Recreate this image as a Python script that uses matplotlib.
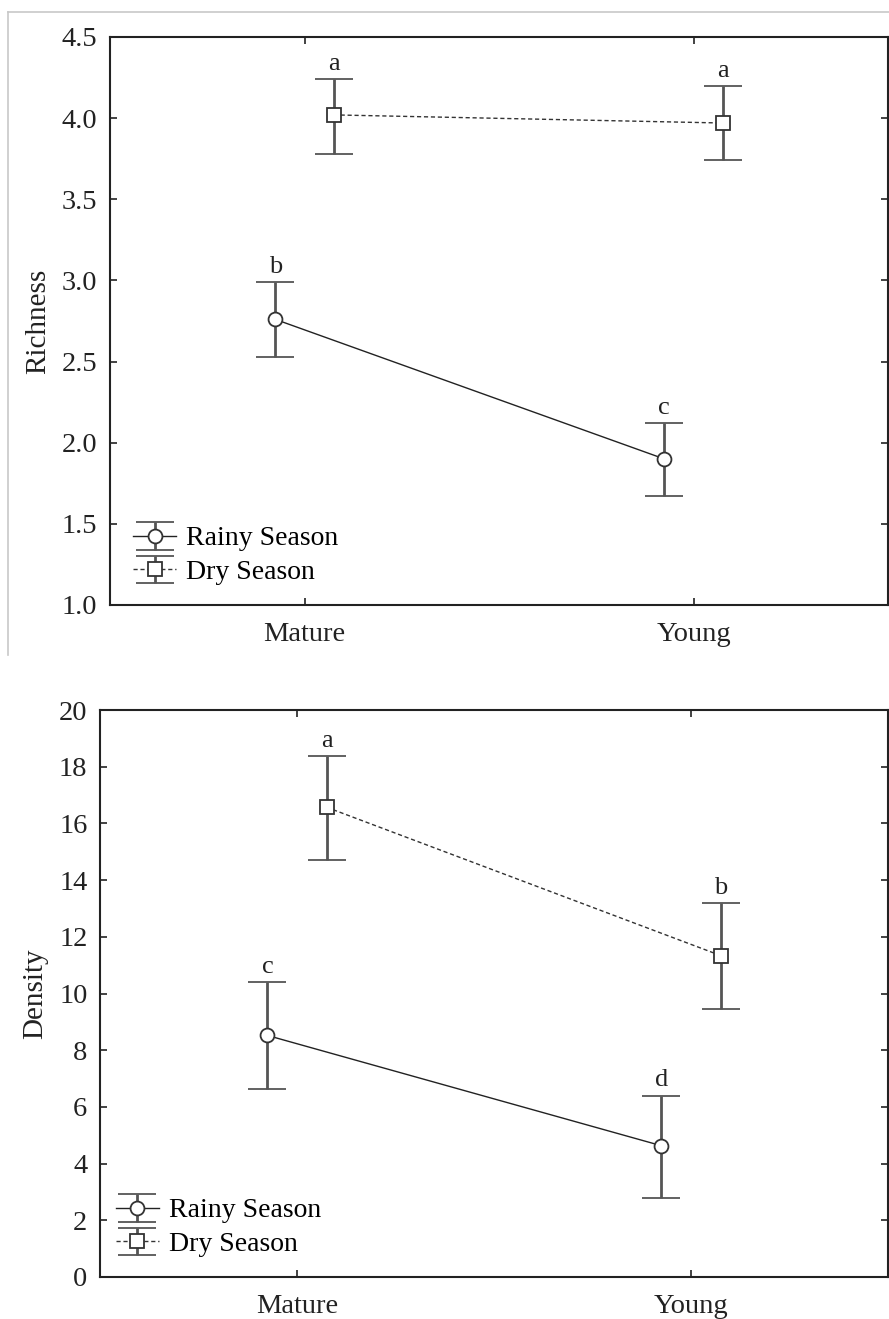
import numpy as np
import matplotlib
matplotlib.use("Agg")
import matplotlib.pyplot as plt
from matplotlib.legend_handler import HandlerErrorbar
from matplotlib.lines import Line2D

plt.rcParams['font.family'] = ['Liberation Serif', 'DejaVu Serif']

stands = ["Mature", "Young"]
seasons = ["Rainy Season", "Dry Season"]

# richness: mean, lower and upper bound of the bars
rich_rainy = [2.76, 1.90]
rich_rainy_lo = [2.53, 1.67]
rich_rainy_hi = [2.99, 2.12]
rich_dry = [4.02, 3.97]
rich_dry_lo = [3.78, 3.74]
rich_dry_hi = [4.24, 4.20]
rich_letters_rainy = ["b", "c"]
rich_letters_dry = ["a", "a"]

# density
dens_rainy = [8.52, 4.63]
dens_rainy_lo = [6.64, 2.80]
dens_rainy_hi = [10.39, 6.40]
dens_dry = [16.57, 11.34]
dens_dry_lo = [14.70, 9.47]
dens_dry_hi = [18.37, 13.18]
dens_letters_rainy = ["c", "d"]
dens_letters_dry = ["a", "b"]

fig = plt.figure(figsize=(8.89, 13.19), dpi=100)
ax0 = fig.add_axes([110/889, 1-605/1319, 778/889, 568/1319])
ax1 = fig.add_axes([100/889, 1-1277/1319, 788/889, 567/1319])

# light frame around the upper picture
fig.add_artist(Line2D([8/889, 1], [1-12/1319, 1-12/1319], transform=fig.transFigure,
                      color="#c8c8c8", lw=1.2))
fig.add_artist(Line2D([8/889, 8/889], [1-12/1319, 1-655/1319], transform=fig.transFigure,
                      color="#c8c8c8", lw=1.2))

x = np.arange(len(stands))
OFF = 0.075


def panel(ax, rainy, rlo, rhi, dry, dlo, dhi, lrain, ldry, ylim, yticks, ylabel, fmt, leg_anchor):
    rainy = np.array(rainy); dry = np.array(dry)
    rerr = [rainy - np.array(rlo), np.array(rhi) - rainy]
    derr = [dry - np.array(dlo), np.array(dhi) - dry]
    ax.errorbar(x - OFF, rainy, yerr=rerr, color="#222222", lw=1.0, ls="-",
                marker="o", ms=10, mfc="white", mec="#333333", mew=1.3,
                ecolor="#555555", elinewidth=2.0, capsize=14, capthick=2.0,
                label=seasons[0], zorder=3)
    ax.errorbar(x + OFF, dry, yerr=derr, color="#333333", lw=1.0, ls=(0, (3, 2)),
                marker="s", ms=10, mfc="white", mec="#333333", mew=1.3,
                ecolor="#555555", elinewidth=2.0, capsize=14, capthick=2.0,
                label=seasons[1], zorder=3)
    for i in range(len(x)):
        ax.annotate(lrain[i], (x[i] - OFF, rhi[i]), xytext=(0, 3), textcoords="offset points",
                    ha="center", va="bottom", fontsize=19, color="#222222")
        ax.annotate(ldry[i], (x[i] + OFF, dhi[i]), xytext=(0, 3), textcoords="offset points",
                    ha="center", va="bottom", fontsize=19, color="#222222")
    ax.set_xlim(-0.5, 1.5)
    ax.set_ylim(*ylim)
    ax.set_yticks(yticks)
    ax.set_yticklabels([fmt.format(v) for v in yticks])
    ax.set_xticks(x)
    ax.set_xticklabels(stands)
    ax.tick_params(axis="both", direction="in", length=5, width=1.2, labelsize=20.5,
                   top=True, right=True, colors="#222222")
    ax.tick_params(axis="x", pad=12)
    ax.tick_params(axis="y", pad=9)
    for s in ax.spines.values():
        s.set_linewidth(1.5)
        s.set_color("#222222")
    ax.set_ylabel(ylabel, fontsize=21, color="#222222", labelpad=8)
    ax.legend(loc="lower left", bbox_to_anchor=leg_anchor, frameon=False, fontsize=20,
              handlelength=1.55, handletextpad=0.35, labelspacing=0.3, borderpad=0,
              borderaxespad=0, handler_map={type(ax.containers[0]): HandlerErrorbar(xerr_size=0.5)})


panel(ax0, rich_rainy, rich_rainy_lo, rich_rainy_hi, rich_dry, rich_dry_lo, rich_dry_hi,
      rich_letters_rainy, rich_letters_dry, (1.0, 4.5), np.arange(1.0, 4.51, 0.5),
      "Richness", "{:.1f}", (0.03, 0.035))
panel(ax1, dens_rainy, dens_rainy_lo, dens_rainy_hi, dens_dry, dens_dry_lo, dens_dry_hi,
      dens_letters_rainy, dens_letters_dry, (0, 20), np.arange(0, 21, 2),
      "Density", "{:.0f}", (0.02, 0.035))

fig.savefig("out.png", dpi=100)
